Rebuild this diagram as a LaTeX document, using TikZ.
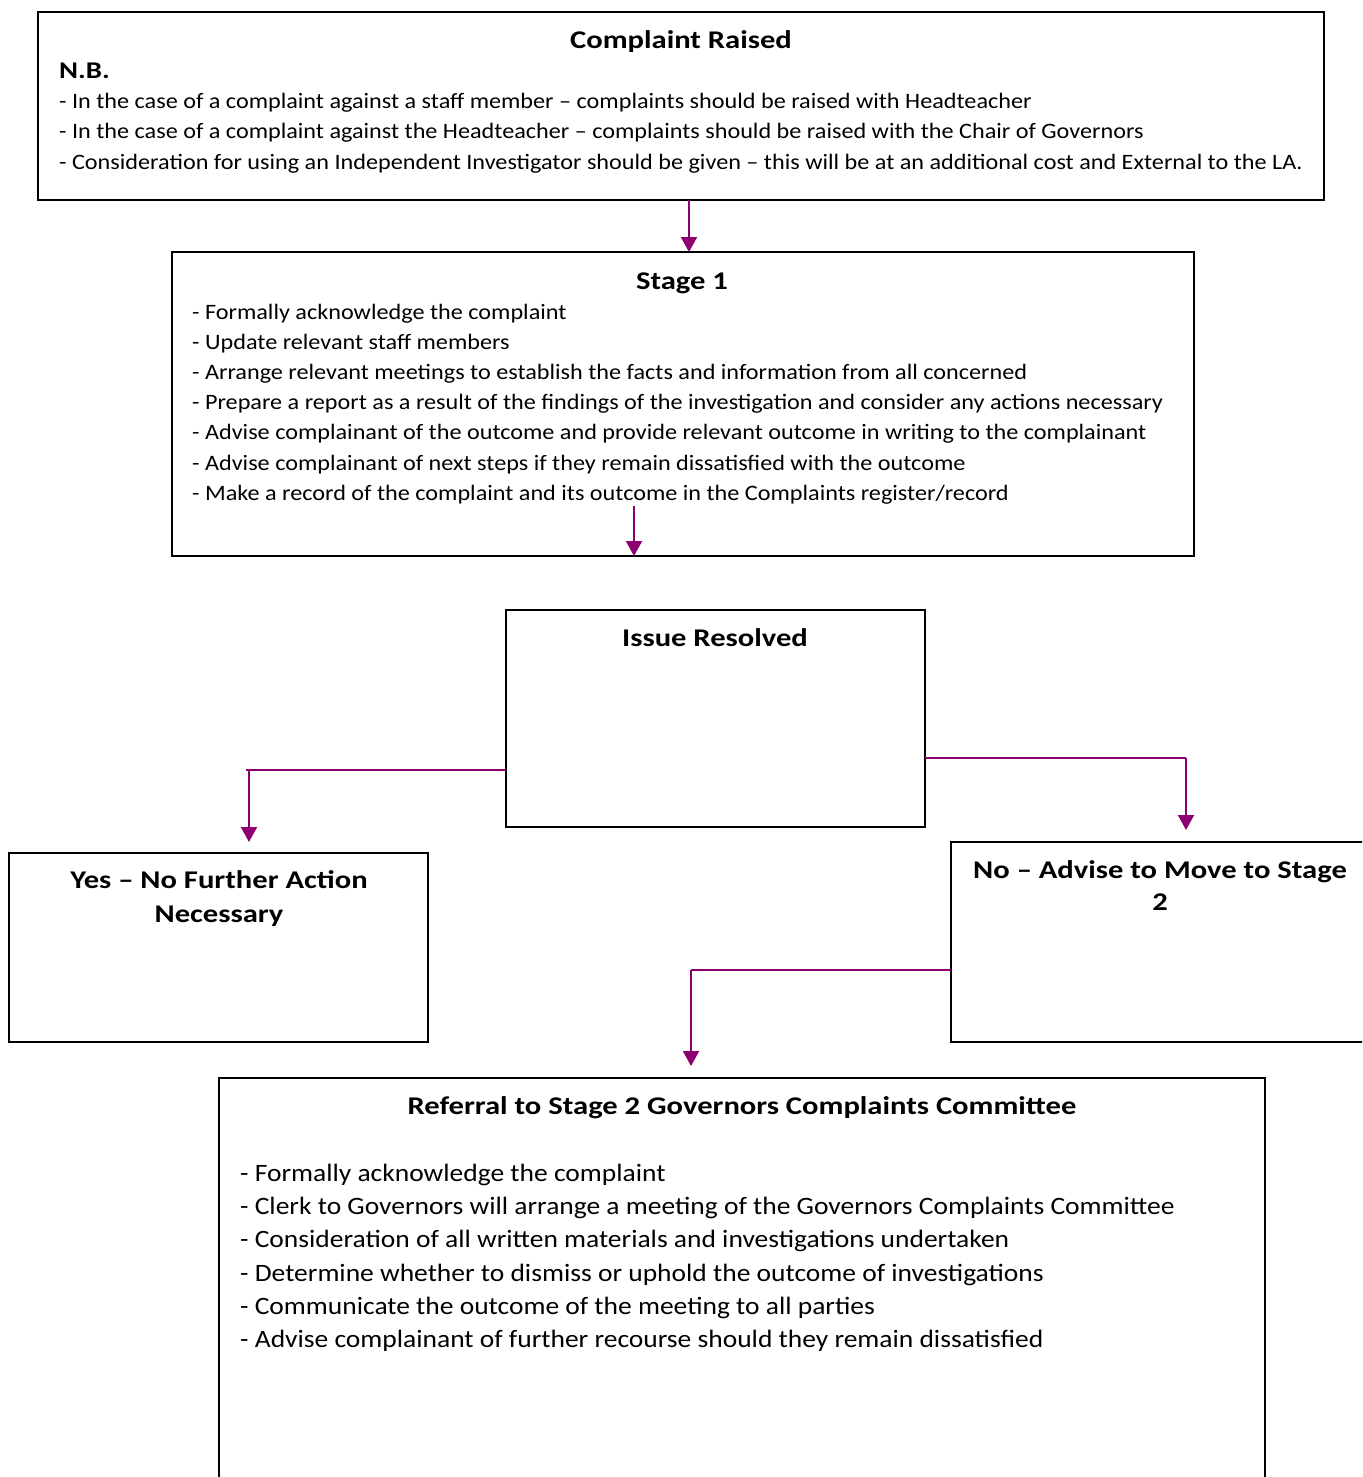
\documentclass[tikz,border=0pt]{standalone}
\usepackage{fontspec}
\setmainfont{Carlito}
\newfontfamily\bodyf[FakeStretch=1.1]{Carlito}
\newfontfamily\ttlf[FakeStretch=1.2]{Carlito}
\usetikzlibrary{arrows.meta,calc}
\definecolor{arrcol}{RGB}{140,0,112}
\tikzset{
  box/.style={draw=black,line width=2pt,inner sep=0pt,outer sep=0pt,anchor=north west},
  arr/.style={draw=arrcol,line width=2pt,-{Triangle[width=16pt,length=15pt]}},
  seg/.style={draw=arrcol,line width=2pt},
  body/.style={inner sep=0pt,anchor=base west,font=\bodyf\fontsize{22}{26}\selectfont},
  bigbody/.style={inner sep=0pt,anchor=base west,font=\bodyf\fontsize{25}{30}\selectfont},
  ttl/.style={inner sep=0pt,anchor=base,font=\ttlf\fontsize{25.5}{30}\selectfont\bfseries},
}
\begin{document}
\begin{tikzpicture}[x=1pt,y=-1pt]
\useasboundingbox (0,0) rectangle (1362,1477);
\clip (0,0) rectangle (1362,1477);
% boxes
\node[box,minimum width=1286pt,minimum height=188pt] (b1) at (38,12) {};
\node[box,minimum width=1022pt,minimum height=304pt] (b2) at (172,252) {};
\node[box,minimum width=419pt,minimum height=217pt] (b3) at (506,610) {};
\node[box,minimum width=419pt,minimum height=189pt] (b4) at (9,853) {};
\node[box,minimum width=440pt,minimum height=200pt] (b5) at (951,842) {};
\node[box,minimum width=1046pt,minimum height=440pt] (b6) at (219,1078) {};
% box 1 text
\node[ttl] (t1) at (681,49) {Complaint Raised};
\node[body,font=\ttlf\fontsize{24}{28}\selectfont\bfseries] (nb) at (59,79) {N.B.};
\node[body] (l11) at (59,109) {- In the case of a complaint against a staff member – complaints should be raised with Headteacher};
\node[body] (l12) at (59,139) {- In the case of a complaint against the Headteacher – complaints should be raised with the Chair of Governors};
\node[body] (l13) at (59,169) {- Consideration for using an Independent Investigator should be given – this will be at an additional cost and External to the LA.};
% box 2 text
\node[ttl] (t2) at (682,289) {Stage 1};
\node[body] (l21) at (192,319) {- Formally acknowledge the complaint};
\node[body] (l22) at (192,349) {- Update relevant staff members};
\node[body] (l23) at (192,379) {- Arrange relevant meetings to establish the facts and information from all concerned};
\node[body] (l24) at (192,409) {- Prepare a report as a result of the findings of the investigation and consider any actions necessary};
\node[body] (l25) at (192,439) {- Advise complainant of the outcome and provide relevant outcome in writing to the complainant};
\node[body] (l26) at (192,470) {- Advise complainant of next steps if they remain dissatisfied with the outcome};
\node[body] (l27) at (192,500) {- Make a record of the complaint and its outcome in the Complaints register/record};
% box 3-5 titles
\node[ttl] (t3) at (715,646) {Issue Resolved};
\node[ttl] (t4a) at (219,888) {Yes – No Further Action};
\node[ttl] (t4b) at (219,922) {Necessary};
\node[ttl] (t5a) at (1160,878) {No – Advise to Move to Stage};
\node[ttl] (t5b) at (1160,910) {2};
% box 6
\node[ttl] (t6) at (742,1114) {Referral to Stage 2 Governors Complaints Committee};
\node[bigbody] (l61) at (240,1181) {- Formally acknowledge the complaint};
\node[bigbody] (l62) at (240,1214) {- Clerk to Governors will arrange a meeting of the Governors Complaints Committee};
\node[bigbody] (l63) at (240,1247) {- Consideration of all written materials and investigations undertaken};
\node[bigbody] (l64) at (240,1281) {- Determine whether to dismiss or uphold the outcome of investigations};
\node[bigbody] (l65) at (240,1314) {- Communicate the outcome of the meeting to all parties};
\node[bigbody] (l66) at (240,1347) {- Advise complainant of further recourse should they remain dissatisfied};
% connectors
\coordinate (a2s) at (634,506);
\coordinate (c3l) at (246,770);
\coordinate (c3r) at (1186,758);
\coordinate (c5l) at (691,970);
\draw[arr] (b1.south -| 689,0) -- (b2.north -| 689,0);
\draw[arr] (a2s) -- (b2.south -| a2s);
\draw[seg] (b3.west |- c3l) -- (c3l);
\draw[arr] (249,770) -- (249,842);
\draw[seg] (b3.east |- c3r) -- (c3r);
\draw[arr] (c3r) -- (1186,830);
\draw[seg] (b5.west |- c5l) -- (c5l);
\draw[arr] (c5l) -- (691,1066);
\end{tikzpicture}
\end{document}
